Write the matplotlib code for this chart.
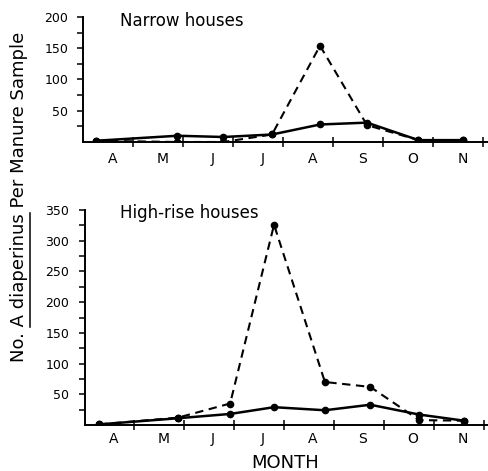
import matplotlib
matplotlib.use("Agg")
import matplotlib.pyplot as plt
from matplotlib.lines import Line2D

plt.rcParams['font.family'] = ['DejaVu Sans']
plt.rcParams['lines.scale_dashes'] = False

months = ['A', 'M', 'J', 'J', 'A', 'S', 'O', 'N']

# sampling dates in months after 1 April
narrow_x = [0.25, 1.88, 2.80, 3.77, 4.73, 5.67, 6.70, 7.60]
narrow_solid = [2, 10, 8, 12, 28, 31, 3, 3]
narrow_dashed = [2, 0, 0, 12, 154, 27, 3, 3]

high_x = [0.29, 1.875, 2.92, 3.80, 4.82, 5.73, 6.71, 7.61]
high_solid = [1, 11, 18, 29, 24, 33, 17, 7]
high_dashed = [1, 12, 35, 326, 70, 62, 8, 7]

W, H = 489, 471
fig = plt.figure(figsize=(W / 100, H / 100), dpi=100)

def px_axes(left, top, right, bottom):
    return fig.add_axes([left / W, 1 - bottom / H, (right - left) / W, (bottom - top) / H])

ax1 = px_axes(83.5, 17, 488, 142)
ax2 = px_axes(84.5, 210, 488, 425)

def style(ax, xs, solid, dashed, ymax, title, title_y, xpad):
    ax.plot(xs, solid, color='black', lw=1.8, marker='o', ms=4.5, solid_joinstyle='round')
    ax.plot(xs, dashed, color='black', lw=1.5, ls=(0, (6, 4)), marker='o', ms=4.5)
    ax.set_xlim(0, 8.09)
    ax.set_ylim(0, ymax)
    for s in ['top', 'right']:
        ax.spines[s].set_visible(False)
    for s in ['left', 'bottom']:
        ax.spines[s].set_linewidth(1.4)
    ax.set_yticks(list(range(50, ymax + 1, 50)))
    ax.set_yticks(list(range(25, ymax + 1, 50)), minor=True)
    ax.tick_params(axis='y', which='both', direction='out', length=4.5, width=1.1,
                   labelsize=9, pad=6.5)
    ax.set_xticks(range(1, 9))
    ax.set_xticklabels([])
    ax.set_xticks([i + 0.58 for i in range(8)], minor=True)
    ax.set_xticklabels(months, minor=True)
    ax.tick_params(axis='x', which='major', direction='inout', length=7, width=1.1)
    ax.tick_params(axis='x', which='minor', length=0, labelsize=10, pad=xpad)
    ax.text(120, title_y, title, transform=None, fontsize=12, va='center', ha='left')

style(ax1, narrow_x, narrow_solid, narrow_dashed, 200, 'Narrow houses', H - 21, 7)
style(ax2, high_x, high_solid, high_dashed, 350, 'High-rise houses', H - 213, 5)

fig.text(285 / W, 1 - 468 / H, 'MONTH', fontsize=13, ha='center', va='baseline')

label = 'No. A diaperinus Per Manure Sample'
t = fig.text(19 / W, 1 - 197 / H, label, rotation=90, fontsize=13, ha='center', va='center')

# underline "A diaperinus"
fig.canvas.draw()
r = fig.canvas.get_renderer()
bb = t.get_window_extent(r)
def width_of(s):
    tt = fig.text(0, 0, s, fontsize=13)
    w = tt.get_window_extent(r).width
    tt.remove()
    return w
full = width_of(label)
w1 = width_of('No. A') - width_of('A')
w2 = width_of('No. A diaperinus')
start = bb.y0 + (bb.height - full) / 2
xline = bb.x1 + 1.5
fig.add_artist(Line2D([xline / W, xline / W], [(start + w1) / H, (start + w2) / H],
                      transform=fig.transFigure, color='black', lw=1.1))

fig.savefig('out.png', dpi=100)
